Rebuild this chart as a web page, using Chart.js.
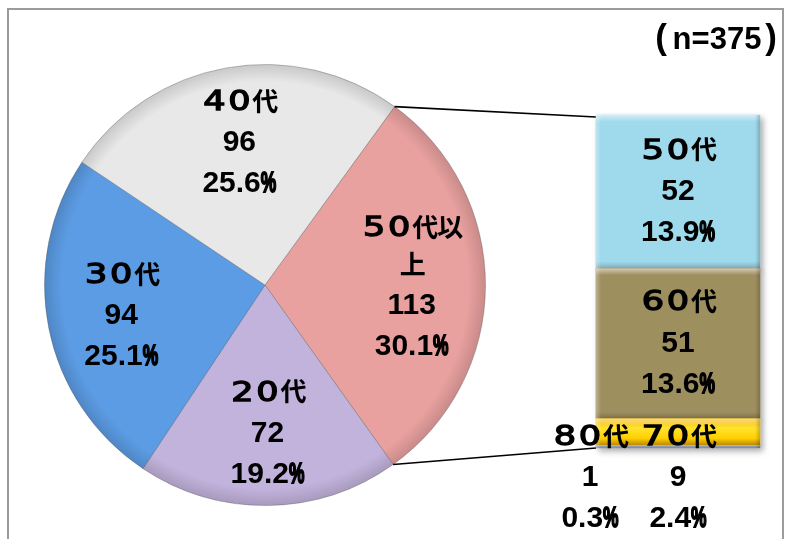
<!DOCTYPE html>
<html lang="ja">
<head>
<meta charset="utf-8">
<script src="https://cdn.jsdelivr.net/npm/chart.js@4"></script>
<style>
  html, body { margin: 0; padding: 0; background: #fff; }
  #wrap { position: relative; width: 786px; height: 539px; overflow: hidden; }
  #frame { position: absolute; left: 7px; top: 8px; width: 777px; height: 560px;
           border: 2px solid #9b9b9b; box-sizing: border-box; }
  #pieChart { position: absolute; left: 0; top: 0; }
  #barChart { position: absolute; left: 540px; top: 100px; }
</style>
</head>
<body>
<div id="wrap">
  <div id="frame"></div>
  <canvas id="pieChart" width="786" height="539"></canvas>
  <canvas id="barChart" width="246" height="439"></canvas>
</div>
<script>
// pie: whole sample by age group (first slice is broken out into the bar)
const pieLabels = ['50代以上', '20代', '30代', '40代'];
const pieCounts = [113, 72, 94, 96];
const pieColors = ['#e8a19f', '#c2b3dc', '#5c9ce4', '#e8e8e8'];

// bar: breakdown of 50+ (bottom to top)
const barLabels = ['80代', '70代', '60代', '50代'];
const barCounts = [1, 9, 51, 52];
const barColors = ['#8e9bb0', '#fdd21a', '#9e8f5f', '#9fd9ec'];

const sampleSize = 375;
const pieRotation = 36;

const CJK_FONT = 'bold 26px "Noto Sans CJK JP"';
const DIGIT_FONT = '27px "DejaVu Sans"';
const NUM_FONT = 'bold 30px "Liberation Sans", Arial, sans-serif';
const CELL = 25;
const LINE_H = 41;

const pct = v => (v / sampleSize * 100).toFixed(1) + '%';

// names are set on a fixed full-width grid, digits widened to look full-width
function nameLines(text, maxChars) {
  const chars = [...text];
  const out = [];
  for (let i = 0; i < chars.length; i += maxChars) out.push(chars.slice(i, i + maxChars));
  return out;
}

function drawName(ctx, chars, x, y) {
  const x0 = x - chars.length * CELL / 2;
  chars.forEach((ch, i) => {
    const cx = x0 + CELL * i + CELL / 2;
    ctx.save();
    ctx.translate(cx, y);
    if (/[0-9]/.test(ch)) {
      ctx.font = DIGIT_FONT;
      ctx.scale(1.3, 1);
      ctx.fillText(ch, 0, 1);
      ctx.lineWidth = 1.3;
      ctx.strokeText(ch, 0, 1);
    } else {
      ctx.font = CJK_FONT;
      ctx.fillText(ch, 1, -1);
    }
    ctx.restore();
  });
}

function drawNum(ctx, text, x, y) {
  ctx.save();
  ctx.font = NUM_FONT;
  ctx.textAlign = 'left';
  const k = 0.58;
  const hasPct = text.endsWith('%');
  const main = hasPct ? text.slice(0, -1) : text;
  const w1 = ctx.measureText(main).width;
  const w2 = hasPct ? ctx.measureText('%').width * k : 0;
  const x0 = x - (w1 + w2) / 2;
  ctx.fillText(main, x0, y);
  if (hasPct) {
    ctx.translate(x0 + w1, y);
    ctx.scale(k, 1);
    ctx.fillText('%', 0, 0);
    ctx.lineWidth = 2;
    ctx.strokeText('%', 0, 0);
  }
  ctx.restore();
}

function drawBlock(ctx, x, yTop, lines, count) {
  ctx.save();
  ctx.fillStyle = '#000';
  ctx.strokeStyle = '#000';
  ctx.textAlign = 'center';
  ctx.textBaseline = 'middle';
  let y = yTop;
  lines.forEach(l => { drawName(ctx, l, x, y); y += LINE_H - 4; });
  y += 4;
  drawNum(ctx, String(count), x, y);
  drawNum(ctx, pct(count), x, y + LINE_H);
  ctx.restore();
}

function shade(hex, f) {
  const n = parseInt(hex.slice(1), 16);
  const c = [(n >> 16) & 255, (n >> 8) & 255, n & 255].map(v => Math.round(v * f));
  return `rgb(${c[0]},${c[1]},${c[2]})`;
}

// ---- bar of pie ----
const barLabelPlugin = {
  id: 'barLabels',
  beforeDatasetsDraw(chart) {
    const ctx = chart.ctx;
    ctx.save();
    ctx.shadowColor = 'rgba(0,0,0,0.35)';
    ctx.shadowBlur = 6;
    ctx.shadowOffsetX = 3;
    ctx.shadowOffsetY = 3;
  },
  afterDatasetsDraw(chart) {
    const ctx = chart.ctx;
    ctx.restore();

    // bevel on each segment
    barCounts.forEach((v, i) => {
      const bar = chart.getDatasetMeta(i).data[0];
      const l = bar.x - bar.width / 2, w = bar.width;
      const t = bar.y, h = bar.base - bar.y;
      ctx.save();
      if (i === 1) {
        const g = ctx.createLinearGradient(0, t, 0, t + h);
        g.addColorStop(0, '#f2b000');
        g.addColorStop(0.35, '#ffe330');
        g.addColorStop(0.75, '#ffd000');
        g.addColorStop(1, '#e9a800');
        ctx.fillStyle = g;
        ctx.fillRect(l, t, w, h);
      }
      const bev = Math.min(7, h / 3);
      let g = ctx.createLinearGradient(0, t, 0, t + bev);
      g.addColorStop(0, 'rgba(255,255,255,0.55)');
      g.addColorStop(1, 'rgba(255,255,255,0)');
      ctx.fillStyle = g;
      ctx.fillRect(l, t, w, bev);
      g = ctx.createLinearGradient(0, t + h - bev, 0, t + h);
      g.addColorStop(0, 'rgba(0,0,0,0)');
      g.addColorStop(1, 'rgba(0,0,0,0.18)');
      ctx.fillStyle = g;
      ctx.fillRect(l, t + h - bev, w, bev);
      g = ctx.createLinearGradient(l, 0, l + 5, 0);
      g.addColorStop(0, 'rgba(255,255,255,0.3)');
      g.addColorStop(1, 'rgba(255,255,255,0)');
      ctx.fillStyle = g;
      ctx.fillRect(l, t, 5, h);
      g = ctx.createLinearGradient(l + w - 5, 0, l + w, 0);
      g.addColorStop(0, 'rgba(0,0,0,0)');
      g.addColorStop(1, 'rgba(0,0,0,0.2)');
      ctx.fillStyle = g;
      ctx.fillRect(l + w - 5, t, 5, h);
      ctx.restore();
    });

    const bottom = chart.getDatasetMeta(0).data[0].base;
    barCounts.forEach((v, i) => {
      const bar = chart.getDatasetMeta(i).data[0];
      const lines = [[...barLabels[i]]];
      if (v >= 20) {
        const mid = (bar.y + bar.base) / 2;
        drawBlock(ctx, bar.x, mid - LINE_H, lines, v);
      } else {
        const x = i === 0 ? bar.x - bar.width / 2 - 6 : bar.x;
        drawBlock(ctx, x, bottom - 11, lines, v);
      }
    });
  }
};

const barChart = new Chart(document.getElementById('barChart'), {
  type: 'bar',
  data: {
    labels: [''],
    datasets: barCounts.map((v, i) => ({
      label: barLabels[i],
      data: [v],
      backgroundColor: barColors[i],
      borderWidth: 0,
      barPercentage: 1,
      categoryPercentage: 1,
      clip: 10
    }))
  },
  options: {
    responsive: false,
    animation: false,
    layout: { padding: { left: 56, right: 26, top: 15, bottom: 91 } },
    plugins: { legend: { display: false }, tooltip: { enabled: false } },
    scales: {
      x: { stacked: true, display: false },
      y: { stacked: true, display: false, min: 0, max: barCounts.reduce((a, b) => a + b, 0) }
    }
  },
  plugins: [barLabelPlugin]
});

// ---- pie ----
const pieExtras = {
  id: 'pieExtras',
  afterDatasetsDraw(chart) {
    const ctx = chart.ctx;
    const meta = chart.getDatasetMeta(0);

    // connectors from the broken-out slice to the bar
    const arc = meta.data[0];
    const R = arc.outerRadius;
    const barCanvas = barChart.canvas;
    const ox = barCanvas.offsetLeft, oy = barCanvas.offsetTop;
    const topBar = barChart.getDatasetMeta(barCounts.length - 1).data[0];
    const lowBar = barChart.getDatasetMeta(0).data[0];
    const left = ox + topBar.x - topBar.width / 2;
    ctx.save();
    ctx.strokeStyle = '#000';
    ctx.lineWidth = 1.6;
    ctx.beginPath();
    ctx.moveTo(arc.x + Math.cos(arc.startAngle) * R, arc.y + Math.sin(arc.startAngle) * R);
    ctx.lineTo(left, oy + topBar.y + 2);
    ctx.moveTo(arc.x + Math.cos(arc.endAngle) * R, arc.y + Math.sin(arc.endAngle) * R);
    ctx.lineTo(left, oy + lowBar.base);
    ctx.stroke();
    ctx.restore();

    // slice labels
    meta.data.forEach((a, i) => {
      const mid = (a.startAngle + a.endAngle) / 2;
      const r = a.outerRadius * 0.665;
      const cx = a.x + Math.cos(mid) * r;
      const cy = a.y + Math.sin(mid) * r;
      const lines = nameLines(pieLabels[i], 4);
      const h = (lines.length - 1) * (LINE_H - 4) + 4 + LINE_H * 2;
      drawBlock(ctx, cx, cy - h / 2 + 4, lines, pieCounts[i]);
    });

    // sample size
    ctx.save();
    ctx.fillStyle = '#000';
    ctx.textAlign = 'center';
    ctx.textBaseline = 'middle';
    ctx.font = 'bold 35px "Liberation Sans", Arial, sans-serif';
    ctx.fillText('(', 661, 39);
    ctx.fillText(')', 771, 39);
    ctx.font = 'bold 31px "Liberation Sans", Arial, sans-serif';
    ctx.fillText('n=' + sampleSize, 717, 40);
    ctx.restore();
  }
};

new Chart(document.getElementById('pieChart'), {
  type: 'pie',
  data: {
    labels: pieLabels,
    datasets: [{
      data: pieCounts,
      backgroundColor(c) {
        const base = pieColors[c.dataIndex];
        const area = c.chart.chartArea;
        if (!area) return base;
        const x = (area.left + area.right) / 2, y = (area.top + area.bottom) / 2;
        const R = Math.min(area.width, area.height) / 2;
        const g = c.chart.ctx.createRadialGradient(x, y, 0, x, y, R);
        g.addColorStop(0, base);
        g.addColorStop(0.92, base);
        g.addColorStop(1, shade(base, 0.86));
        return g;
      },
      borderColor: 'rgba(80,80,80,0.35)',
      borderWidth: 1,
      hoverOffset: 0
    }]
  },
  options: {
    responsive: false,
    animation: false,
    rotation: pieRotation,
    layout: { padding: { left: 44, top: 64, right: 300, bottom: 33 } },
    plugins: { legend: { display: false }, tooltip: { enabled: false } }
  },
  plugins: [pieExtras]
});
</script>
</body>
</html>
